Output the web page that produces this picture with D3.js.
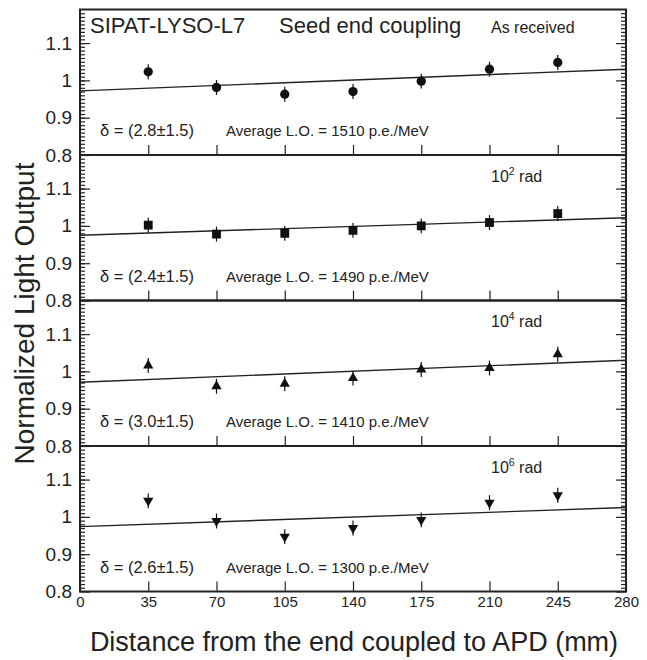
<!DOCTYPE html>
<html>
<head>
<meta charset="utf-8">
<script src="https://cdn.jsdelivr.net/npm/d3@7"></script>
<style>
  body { margin: 0; background: #fff; }
  svg { font-family: "Liberation Sans", Arial, sans-serif; }
</style>
</head>
<body>
<svg id="chart" width="647" height="660"></svg>
<script>
// distances along the crystal (mm)
const positions = [35, 70, 105, 140, 175, 210, 245];
const xTicks = [0, 35, 70, 105, 140, 175, 210, 245, 280];

// normalized light output
const asReceived = [1.023, 0.981, 0.963, 0.970, 0.998, 1.030, 1.048];
const dose1e2 = [1.002, 0.978, 0.980, 0.988, 1.000, 1.009, 1.033];
const dose1e4 = [1.016, 0.960, 0.967, 0.982, 1.005, 1.009, 1.046];
const dose1e6 = [1.043, 0.989, 0.947, 0.970, 0.992, 1.038, 1.058];
const errBar = 0.02;

// straight-line fit, value at x=0 and x=280
const fitStart = [0.972, 0.975, 0.971, 0.974];
const fitEnd = [1.030, 1.022, 1.030, 1.025];

const panelLabels = ["As received", "10|2", "10|4", "10|6"];
const deltas = ["2.8", "2.4", "3.0", "2.6"];
const avgLO = [1510, 1490, 1410, 1300];
const markers = ["circle", "square", "up", "down"];

const yMajor = [0.8, 0.9, 1.0, 1.1];

const svg = d3.select("#chart");
const plotLeft = 80, plotRight = 626, plotTop = 9.5, panelH = 145.5;

const x = d3.scaleLinear().domain([0, 280]).range([plotLeft, plotRight]);

const series = [asReceived, dose1e2, dose1e4, dose1e6];

series.forEach((vals, i) => {
  const y0 = plotTop + i * panelH;
  const y = d3.scaleLinear().domain([0.8, 1.19]).range([y0 + panelH, y0]);
  const g = svg.append("g");

  // minor y ticks, both sides
  const minor = d3.range(81, 119).map(v => v / 100);
  g.append("g").attr("transform", `translate(${plotLeft},0)`)
    .call(d3.axisLeft(y).tickValues(minor).tickSize(-5).tickFormat(""))
    .call(s => s.select(".domain").remove());
  g.append("g").attr("transform", `translate(${plotRight},0)`)
    .call(d3.axisRight(y).tickValues(minor).tickSize(-5).tickFormat(""))
    .call(s => s.select(".domain").remove());

  // major y ticks
  g.append("g").attr("transform", `translate(${plotLeft},0)`)
    .call(d3.axisLeft(y).tickValues(yMajor).tickSize(-10).tickPadding(8)
      .tickFormat(d => d === 1 ? "1" : d.toFixed(1)))
    .call(s => s.select(".domain").remove())
    .call(s => s.selectAll("text").attr("font-size", 19).attr("fill", "#222")
      .attr("font-family", "Liberation Sans, Arial, sans-serif"));
  g.append("g").attr("transform", `translate(${plotRight},0)`)
    .call(d3.axisRight(y).tickValues(yMajor).tickSize(-10).tickFormat(""))
    .call(s => s.select(".domain").remove());

  // x ticks at bottom of each panel
  const xa = g.append("g").attr("transform", `translate(0,${y0 + panelH})`)
    .call(d3.axisBottom(x).tickValues(xTicks).tickSize(-10).tickPadding(5)
      .tickFormat(i === 3 ? d3.format("d") : ""))
    .call(s => s.select(".domain").remove());
  xa.selectAll("text").attr("font-size", 15).attr("fill", "#222")
    .attr("font-family", "Liberation Sans, Arial, sans-serif");
  g.selectAll(".tick line").attr("stroke", "#222").attr("stroke-width", 1.2);

  // frame
  g.append("rect")
    .attr("x", plotLeft).attr("y", y0)
    .attr("width", plotRight - plotLeft).attr("height", panelH)
    .attr("fill", "none").attr("stroke", "#222").attr("stroke-width", 2);

  // fit line
  g.append("line")
    .attr("x1", x(0)).attr("y1", y(fitStart[i]))
    .attr("x2", x(280)).attr("y2", y(fitEnd[i]))
    .attr("stroke", "#222").attr("stroke-width", 1.4);

  // error bars
  g.selectAll(".err").data(vals).join("line")
    .attr("x1", (d, j) => x(positions[j])).attr("x2", (d, j) => x(positions[j]))
    .attr("y1", d => y(d - errBar)).attr("y2", d => y(d + errBar))
    .attr("stroke", "#111").attr("stroke-width", 1.2);

  // markers
  const shape = markers[i];
  const sym = shape === "circle" ? d3.symbolCircle
    : shape === "square" ? d3.symbolSquare : d3.symbolTriangle;
  const size = shape === "circle" ? 68 : shape === "square" ? 78 : 46;
  g.selectAll(".pt").data(vals).join("path")
    .attr("d", d3.symbol(sym, size))
    .attr("transform", (d, j) => `translate(${x(positions[j])},${y(d)})` + (shape === "down" ? " rotate(180)" : ""))
    .attr("fill", "#111");

  // panel label
  const lab = panelLabels[i].split("|");
  const t = g.append("text").attr("x", 491).attr("y", y0 + (i === 0 ? 23.5 : 26.5))
    .attr("font-size", 16).attr("fill", "#222");
  if (lab.length === 1) {
    t.text(lab[0]);
  } else {
    t.append("tspan").text(lab[0]);
    t.append("tspan").attr("dy", -7).attr("font-size", 10.5).text(lab[1]);
    t.append("tspan").attr("dy", 7).text(" rad");
  }

  // delta and average light output
  g.append("text").attr("x", 100).attr("y", y0 + panelH - 19)
    .attr("font-size", 16.5).attr("fill", "#222")
    .text(`δ = (${deltas[i]}±1.5)`);
  g.append("text").attr("x", 226).attr("y", y0 + panelH - 19)
    .attr("font-size", 15).attr("fill", "#222")
    .text(`Average L.O. = ${avgLO[i]} p.e./MeV`);
});

// header texts in first panel
svg.append("text").attr("x", 90).attr("y", 33)
  .attr("font-size", 22).attr("fill", "#222").text("SIPAT-LYSO-L7");
svg.append("text").attr("x", 279).attr("y", 33)
  .attr("font-size", 22).attr("fill", "#222").text("Seed end coupling");

// axis titles
svg.append("text")
  .attr("transform", "translate(34,313.5) rotate(-90)")
  .attr("text-anchor", "middle").attr("font-size", 28).attr("fill", "#222")
  .text("Normalized Light Output");
svg.append("text").attr("x", 354).attr("y", 651)
  .attr("text-anchor", "middle").attr("font-size", 27).attr("fill", "#222")
  .text("Distance from the end coupled to APD (mm)");
</script>
</body>
</html>
